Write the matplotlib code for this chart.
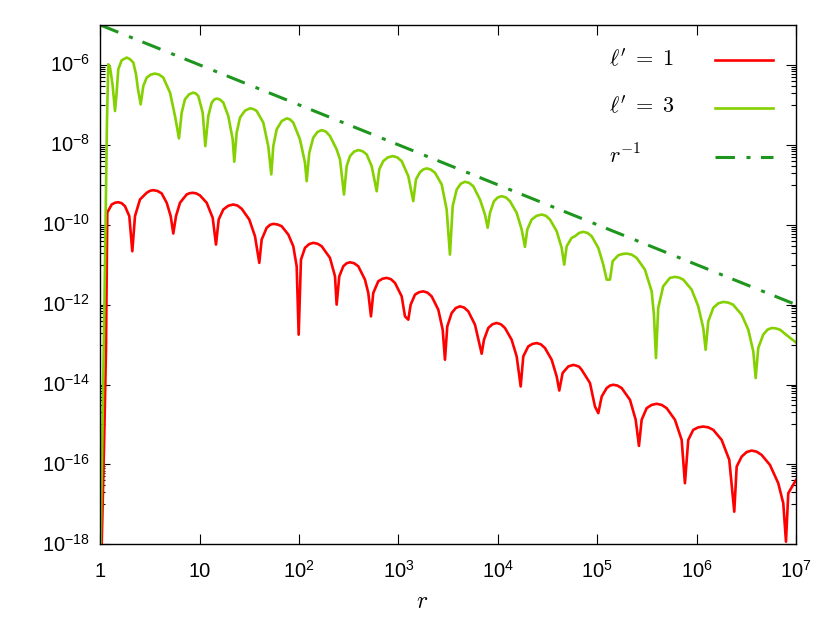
import matplotlib
matplotlib.use('Agg')
import matplotlib.pyplot as plt
from matplotlib.lines import Line2D
from matplotlib.ticker import FixedLocator, NullFormatter, NullLocator
from matplotlib.transforms import ScaledTranslation

# ---------------- data ----------------
r_l1 = [1.033, 1.089, 1.141, 1.176, 1.302, 1.405, 1.517, 1.640,
        1.772, 1.958, 2.099, 2.234, 2.508, 2.93, 3.163, 3.415,
        3.763, 4.147, 4.656, 5.109, 5.427, 5.776, 6.338, 7.40,
        7.934, 8.506, 9.255, 10.07, 11.76, 13.52, 14.59, 15.53,
        17.29, 19.41, 21.78, 24.01, 26.47, 31.55, 36.02, 39.79,
        42.06, 47.2, 50.97, 55.03, 60.63, 66.8, 77.9, 87.47,
        94.6, 99.1, 104.5, 114.7, 126.3, 139.0, 153.2, 168.9,
        204.6, 229.9, 238.8, 253.9, 278.6, 301.1, 325.3, 358.1,
        394.3, 460.3, 497.0, 529.0, 558.1, 626.6, 690.7, 761.4,
        838.1, 922.6, 1078, 1163, 1256, 1327, 1467, 1615,
        1777, 1958, 2158, 2516, 2786, 2938, 3099, 3432,
        3778, 4159, 4579, 5042, 5889, 6501, 6876, 7253,
        8013, 8829, 9728, 10714, 11800, 13770, 15470, 16980,
        18030, 20230, 22304, 24590, 27065, 29790, 34810, 39090,
        41500, 44870, 51130, 57400, 62110, 65810, 69730, 84540,
        94900, 102500, 110900, 124500, 134400, 145000, 159800, 176200,
        213600, 243800, 263000, 280000, 314500, 353000, 396300, 444900,
        499500, 605300, 707400, 763000, 824000, 925000, 1.0385e6, 1.166e6,
        1.31e6, 1.471e6, 1.786e6, 2.131e6, 2.393e6, 2.53e6, 2.84e6, 3.189e6,
        3.58e6, 4.018e6, 4.51e6, 5.47e6, 6.63e6, 7.45e6, 7.93e6, 8.36e6,
        1.0e7]
v_l1 = [1.0e-18, 2.31e-16, 7.4e-14, 2.02e-10, 3.21e-10, 3.55e-10, 3.67e-10, 3.46e-10,
        2.91e-10, 1.64e-10, 2.17e-11, 1.64e-10, 4.29e-10, 6.31e-10, 7.07e-10, 7.34e-10,
        7.0e-10, 6.07e-10, 3.55e-10, 1.64e-10, 6.03e-11, 1.64e-10, 3.55e-10, 5.73e-10,
        6.16e-10, 6.31e-10, 6.07e-10, 5.41e-10, 3.55e-10, 1.49e-10, 3.19e-11, 1.35e-10,
        2.41e-10, 2.99e-10, 3.21e-10, 3.02e-10, 2.51e-10, 1.35e-10, 5.15e-11, 1.11e-11,
        4.26e-11, 8.37e-11, 9.92e-11, 1.05e-10, 1.015e-10, 9.18e-11, 5.69e-11, 2.89e-11,
        9.12e-12, 1.77e-13, 1.34e-11, 2.64e-11, 3.28e-11, 3.52e-11, 3.35e-11, 2.89e-11,
        1.48e-11, 5.12e-12, 1.0e-12, 5.12e-12, 9.12e-12, 1.085e-11, 1.15e-11, 1.085e-11,
        9.12e-12, 4.23e-12, 1.96e-12, 5.08e-13, 1.96e-12, 3.84e-12, 4.45e-12, 4.67e-12,
        4.35e-12, 3.5e-12, 1.61e-12, 5.08e-13, 4.2e-13, 1.0e-12, 1.78e-12, 2.05e-12,
        2.15e-12, 2.0e-12, 1.61e-12, 7.49e-13, 2.36e-13, 4.18e-14, 2.85e-13, 6.18e-13,
        8.23e-13, 9.06e-13, 8.43e-13, 6.79e-13, 3.15e-13, 1.09e-13, 5.9e-14, 1.32e-13,
        2.60e-13, 3.23e-13, 3.47e-13, 3.23e-13, 2.60e-13, 1.32e-13, 5.05e-14, 8.93e-15,
        5.05e-14, 8.99e-14, 1.039e-13, 1.09e-13, 1.015e-13, 8.2e-14, 4.17e-14, 1.59e-14,
        7.08e-15, 1.94e-14, 2.83e-14, 3.1e-14, 2.95e-14, 2.78e-14, 2.34e-14, 1.09e-14,
        2.81e-15, 1.92e-15, 5.0e-15, 8.15e-15, 9.4e-15, 9.86e-15, 9.4e-15, 8.15e-15,
        4.14e-15, 1.31e-15, 2.91e-16, 1.31e-15, 2.56e-15, 3.09e-15, 3.29e-15, 3.09e-15,
        2.56e-15, 1.31e-15, 4.11e-16, 3.38e-17, 4.11e-16, 7.33e-16, 8.46e-16, 8.87e-16,
        8.46e-16, 7.33e-16, 4.11e-16, 1.30e-16, 6.55e-18, 8.81e-17, 1.57e-16, 2.04e-16,
        2.22e-16, 2.085e-16, 1.73e-16, 9.7e-17, 3.38e-17, 1.06e-17, 1.16e-18, 1.90e-17,
        4.08e-17]

r_l3 = [1.008, 1.102, 1.168, 1.204, 1.252, 1.327, 1.406, 1.455,
        1.517, 1.642, 1.843, 1.990, 2.148, 2.287, 2.395, 2.55,
        2.708, 2.93, 3.225, 3.55, 3.907, 4.30, 5.03, 5.645,
        6.19, 6.59, 7.11, 7.833, 8.63, 9.14, 9.68, 10.72,
        11.39, 12.21, 13.21, 14.0, 14.83, 16.01, 17.29, 19.40,
        21.48, 22.29, 23.56, 25.44, 28.56, 32.07, 34.66, 37.46,
        43.65, 48.98, 52.54, 55.03, 59.55, 66.86, 75.06, 81.03,
        87.47, 102.1, 114.7, 119.3, 126.7, 139.0, 153.2, 168.9,
        185.9, 204.6, 238.8, 258.1, 283.1, 301.3, 325.3, 358.1,
        394.3, 434.4, 478.6, 537.8, 603.9, 641.2, 703.1, 783.9,
        874.0, 970.2, 1077, 1256, 1409, 1500, 1647, 1780,
        1923, 2117, 2331, 2723, 3055, 3297, 3512, 3855,
        4242, 4667, 5140, 5662, 6607, 7423, 7902, 8337,
        9142, 9996, 10930, 12030, 13240, 15470, 17370, 18750,
        19780, 21900, 24590, 27610, 30390, 33460, 39090, 43860,
        46560, 49260, 55340, 59700, 65740, 72400, 79780, 87900,
        102500, 115100, 124500, 134400, 143000, 163000, 179600, 197800,
        222000, 249200, 302000, 353000, 372000, 390000, 411000, 461000,
        539000, 605000, 666400, 734000, 891000, 1.039e6, 1.166e6, 1.233e6,
        1.31e6, 1.471e6, 1.651e6, 1.854e6, 2.077e6, 2.326e6, 2.84e6, 3.31e6,
        3.72e6, 3.93e6, 4.17e6, 4.68e6, 5.16e6, 5.69e6, 6.266e6, 6.90e6,
        8.36e6, 1.0e7]
v_l3 = [1.0e-18, 1.33e-12, 4.35e-8, 1.04e-6, 8.75e-7, 3.28e-7, 7.03e-8, 1.84e-7,
        7.8e-7, 1.31e-6, 1.53e-6, 1.39e-6, 1.15e-6, 5.85e-7, 2.46e-7, 1.03e-7,
        2.97e-7, 4.83e-7, 5.74e-7, 6.08e-7, 5.74e-7, 4.83e-7, 2.03e-7, 5.26e-8,
        1.45e-8, 6.4e-8, 1.38e-7, 1.84e-7, 2.03e-7, 1.93e-7, 1.67e-7, 6.4e-8,
        9.3e-9, 5.26e-8, 1.14e-7, 1.36e-7, 1.44e-7, 1.36e-7, 1.14e-7, 5.26e-8,
        1.37e-8, 3.78e-9, 2.02e-8, 4.8e-8, 7.17e-8, 8.2e-8, 7.89e-8, 7.03e-8,
        3.6e-8, 9.3e-9, 1.82e-9, 9.3e-9, 2.44e-8, 3.93e-8, 4.6e-8, 4.33e-8,
        3.6e-8, 1.37e-8, 3.57e-9, 1.23e-9, 6.35e-9, 1.51e-8, 2.1e-8, 2.34e-8,
        2.15e-8, 1.66e-8, 7.7e-9, 4.32e-9, 5.7e-10, 2.93e-9, 5.22e-9, 6.78e-9,
        7.4e-9, 6.95e-9, 5.77e-9, 2.93e-9, 6.9e-10, 2.43e-9, 3.92e-9, 4.86e-9,
        5.22e-9, 4.86e-9, 3.92e-9, 1.65e-9, 3.89e-10, 1.36e-9, 2.07e-9, 2.43e-9,
        2.57e-9, 2.41e-9, 2.0e-9, 1.02e-9, 2.41e-10, 1.79e-11, 2.91e-10, 7.6e-10,
        1.064e-9, 1.19e-9, 1.116e-9, 9.2e-10, 4.29e-10, 1.80e-10, 8.4e-11, 1.99e-10,
        3.89e-10, 4.83e-10, 5.19e-10, 4.83e-10, 3.89e-10, 1.99e-10, 7.6e-11, 2.79e-11,
        7.6e-11, 1.35e-10, 1.676e-10, 1.80e-10, 1.676e-10, 1.35e-10, 6.9e-11, 2.64e-11,
        1.0e-11, 2.89e-11, 4.7e-11, 5.15e-11, 6.23e-11, 6.64e-11, 6.23e-11, 5.15e-11,
        2.64e-11, 1.0e-11, 4.23e-12, 4.23e-12, 1.22e-11, 1.72e-11, 1.85e-11, 1.90e-11,
        1.785e-11, 1.48e-11, 7.5e-12, 2.15e-12, 5.6e-13, 4.6e-14, 8.3e-13, 2.87e-12,
        4.67e-12, 4.94e-12, 4.75e-12, 4.23e-12, 2.38e-12, 9.06e-13, 2.60e-13, 7.4e-14,
        3.81e-13, 8.3e-13, 1.074e-12, 1.17e-12, 1.125e-12, 1.0e-12, 5.6e-13, 2.36e-13,
        6.7e-14, 1.45e-14, 8.2e-14, 1.77e-13, 2.36e-13, 2.60e-13, 2.54e-13, 2.36e-13,
        1.60e-13, 1.13e-13]

r_ref = [1.0, 1.0e7]
v_ref = [1.0e-5, 1.0e-12]

x_ticks = [1, 10, 1e2, 1e3, 1e4, 1e5, 1e6, 1e7]
x_tick_labels = ['1', '10', r'$10^{2}$', r'$10^{3}$', r'$10^{4}$',
                 r'$10^{5}$', r'$10^{6}$', r'$10^{7}$']
y_ticks = [1e-18, 1e-16, 1e-14, 1e-12, 1e-10, 1e-8, 1e-6]
y_tick_labels = [r'$10^{-18}$', r'$10^{-16}$', r'$10^{-14}$', r'$10^{-12}$',
                 r'$10^{-10}$', r'$10^{-8}$', r'$10^{-6}$']
y_minor_exponents = [-7, -9, -11, -13, -15, -17]
y_minor_mults = [1, 2, 3, 4, 5, 6, 7, 8, 9]
legend_labels = [r"$\ell'\;=\;1$", r"$\ell'\;=\;3$", r"$r^{-1}$"]

# ---------------- style ----------------
plt.rcParams['font.family'] = ['Liberation Sans', 'DejaVu Sans']
plt.rcParams['mathtext.fontset'] = 'custom'
plt.rcParams['mathtext.rm'] = 'Liberation Sans'
plt.rcParams['mathtext.it'] = 'Liberation Sans:italic'
plt.rcParams['mathtext.bf'] = 'Liberation Sans:bold'
plt.rcParams['lines.scale_dashes'] = False

c_red = '#ff0000'
c_lgreen = '#84d000'
c_dgreen = '#1e961e'
dash_pat = (14, 8.3, 2.9, 7.5)
curve_lw = 1.9
ref_lw = 2.2

fig = plt.figure(figsize=(8.3, 6.23), dpi=100)
ax = fig.add_axes([0.12084, 0.12632, 0.83819, 0.83355])

ax.plot(r_l1, v_l1, color=c_red, lw=curve_lw, solid_joinstyle='round')
ax.plot(r_l3, v_l3, color=c_lgreen, lw=curve_lw, solid_joinstyle='round')
ax.plot(r_ref, v_ref, color=c_dgreen, lw=ref_lw, dashes=dash_pat, dash_capstyle='butt')

ax.set_xscale('log')
ax.set_yscale('log')
ax.set_xlim(1, 1e7)
ax.set_ylim(1e-18, 1e-5)

ax.set_xticks(x_ticks)
ax.set_xticklabels(x_tick_labels)
ax.xaxis.set_minor_locator(NullLocator())
ax.set_yticks(y_ticks)
ax.set_yticklabels(y_tick_labels)
minor_locs = [m * 10.0 ** e for e in y_minor_exponents for m in y_minor_mults]
ax.yaxis.set_minor_locator(FixedLocator(minor_locs))
ax.yaxis.set_minor_formatter(NullFormatter())

ax.tick_params(which='both', direction='in', top=True, right=True,
               width=0.8, labelsize=14.5, colors='black')
ax.tick_params(which='major', length=7.2)
ax.tick_params(which='minor', length=3.6)
ax.tick_params(axis='x', pad=23.8)
ax.tick_params(axis='y', pad=7.4)
for sp in ax.spines.values():
    sp.set_linewidth(1.0)

for t in ax.xaxis.get_major_ticks():
    t.label1.set_va('baseline')
yoff = ScaledTranslation(0, -0.072, fig.dpi_scale_trans)
for t in ax.yaxis.get_major_ticks():
    t.label1.set_va('baseline')
    t.label1.set_transform(t.label1.get_transform() + yoff)

ax.set_xlabel('$r$', fontsize=17, math_fontfamily='cm')
ax.xaxis.set_label_coords(0.4624, -0.1227)
ax.xaxis.label.set_va('baseline')

# legend (gnuplot style: text left, sample right)
leg_colors = [c_red, c_lgreen, c_dgreen]
leg_dashes = [None, None, dash_pat]
leg_lw = [curve_lw, curve_lw, ref_lw]
leg_line_y = [0.9327, 0.8402, 0.7459]
leg_text_y = [0.9212, 0.8311, 0.7337]
for lab, col, dsh, lw, ly, ty in zip(legend_labels, leg_colors, leg_dashes,
                                     leg_lw, leg_line_y, leg_text_y):
    ax.text(0.731, ty, lab, transform=ax.transAxes, fontsize=16,
            math_fontfamily='cm', ha='left', va='baseline')
    ln = Line2D([0.8833, 0.9667], [ly, ly], transform=ax.transAxes,
                color=col, lw=lw)
    if dsh is not None:
        ln.set_dashes(dsh)
        ln.set_dash_capstyle('butt')
    ax.add_line(ln)

fig.savefig('out.png', dpi=100)
